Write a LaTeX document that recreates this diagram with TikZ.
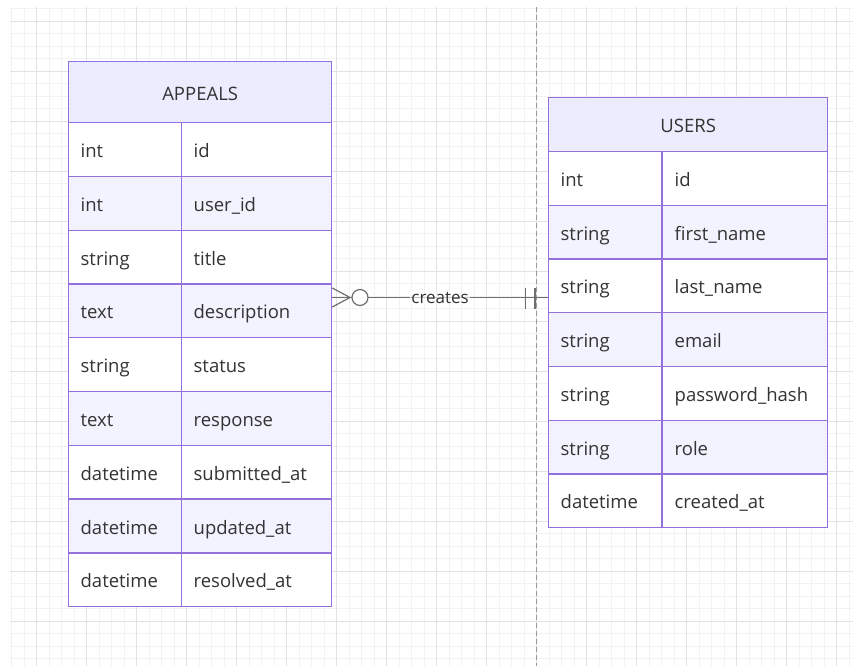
\documentclass[tikz,border=0pt]{standalone}
\usepackage{fontspec}
\setmainfont{Open Sans}
\definecolor{gridmajor}{HTML}{E2E2E2}
\definecolor{gridminor}{HTML}{F2F2F2}
\definecolor{tborder}{HTML}{9370DB}
\definecolor{thead}{HTML}{ECECFF}
\definecolor{teven}{HTML}{F3F3FF}
\definecolor{ttext}{HTML}{333333}
\definecolor{relline}{HTML}{6E6E6E}
\begin{document}
\begin{tikzpicture}[x=1pt,y=-1pt,
  cellbox/.style={draw=tborder, line width=1.3pt, anchor=north west, inner xsep=12pt, inner ysep=0pt,
    text height=16pt, text depth=0pt, align=left, text=ttext, font=\fontsize{18.5}{22}\selectfont},
  headbox/.style={draw=tborder, line width=1.3pt, fill=thead, anchor=north west, inner sep=0pt,
    text height=16pt, text depth=0pt, align=center, text=ttext, font=\fontsize{18.5}{22}\selectfont},
  relstyle/.style={draw=relline, line width=1.2pt},
]
\useasboundingbox (0,0) rectangle (853,666);
\fill[white] (0,0) rectangle (853,666);
% background grid
\begin{scope}
\clip (10,7) rectangle (853,666);
\foreach \k in {0,...,67} {
  \pgfmathsetmacro{\xx}{11.5+12.5*\k}
  \draw[gridminor, line width=0.8pt] (\xx,7) -- (\xx,666);
}
\foreach \k in {0,...,53} {
  \pgfmathsetmacro{\yy}{8.5+12.5*\k}
  \draw[gridminor, line width=0.8pt] (10,\yy) -- (853,\yy);
}
\foreach \k in {0,...,16} {
  \pgfmathsetmacro{\xx}{36.5+50*\k}
  \draw[gridmajor, line width=1pt] (\xx,7) -- (\xx,666);
}
\foreach \k in {0,...,13} {
  \pgfmathsetmacro{\yy}{21.5+50*\k}
  \draw[gridmajor, line width=1pt] (10,\yy) -- (853,\yy);
}
\end{scope}
\draw[gray!80, line width=0.8pt, dash pattern=on 5pt off 3pt] (536.5,7) -- (536.5,666);

% APPEALS table
\node[headbox, minimum width=263pt, minimum height=61pt] (aphead) at (68,61) {APPEALS};
\foreach \i/\t/\n in {1/int/id, 2/int/user\_id, 3/string/title, 4/text/description, 5/string/status,
    6/text/response, 7/datetime/submitted\_at, 8/datetime/updated\_at, 9/datetime/resolved\_at} {
  \pgfmathsetmacro{\rtop}{122+(\i-1)*53.78}
  \pgfmathtruncatemacro{\parity}{mod(\i,2)}
  \ifnum\parity=0 \def\fc{teven}\else\def\fc{white}\fi
  \node[cellbox, fill=\fc, minimum height=53.78pt, text width=89pt] (apt\i) at (68,\rtop) {\t};
  \node[cellbox, fill=\fc, minimum height=53.78pt, text width=126pt] (apn\i) at (181,\rtop) {\n};
}

% USERS table
\node[headbox, minimum width=279pt, minimum height=54pt] (ushead) at (548,97) {USERS};
\foreach \i/\t/\n in {1/int/id, 2/string/first\_name, 3/string/last\_name, 4/string/email,
    5/string/password\_hash, 6/string/role, 7/datetime/created\_at} {
  \pgfmathsetmacro{\rtop}{151+(\i-1)*53.71}
  \pgfmathtruncatemacro{\parity}{mod(\i,2)}
  \ifnum\parity=0 \def\fc{teven}\else\def\fc{white}\fi
  \node[cellbox, fill=\fc, minimum height=53.71pt, text width=89pt] (ust\i) at (548,\rtop) {\t};
  \node[cellbox, fill=\fc, minimum height=53.71pt, text width=141pt] (usn\i) at (662,\rtop) {\n};
}

% relationship
\coordinate (lvl) at (0,297.5);
\coordinate (ca) at (apn4.east |- lvl);
\coordinate (cu) at (ust4.west |- lvl);
\coordinate (apex) at (350,297.5);
\draw[relstyle] (ca) -- node[fill=white, fill opacity=0.6, text opacity=1, text=ttext,
   inner sep=1pt, font=\fontsize{17}{20}\selectfont] (lbl) {creates} (cu);
\draw[relstyle] ([yshift=-9.5pt]ca) -- (apex) -- ([yshift=9.5pt]ca);
\node[circle, relstyle, fill=white, minimum size=16pt, inner sep=0pt] (zero) at (360,297.5) {};
\draw[relstyle] (525.5,288) -- (525.5,309);
\draw[relstyle] (535,288) -- (535,309);
\end{tikzpicture}
\end{document}
